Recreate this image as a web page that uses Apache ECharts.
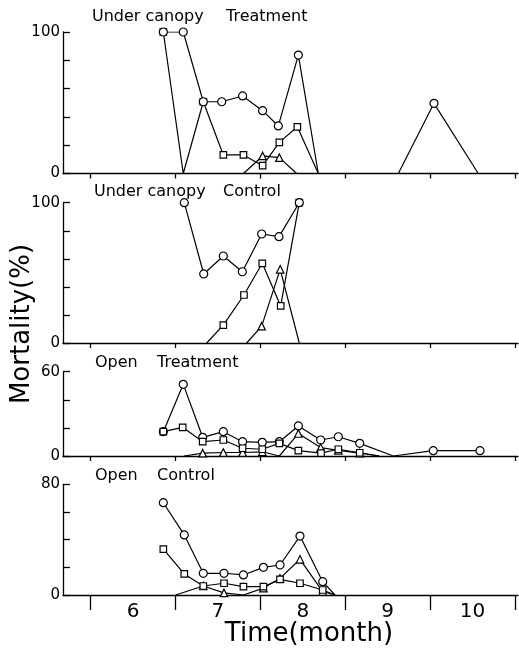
<!DOCTYPE html>
<html><head><meta charset="utf-8">
<script src="https://cdn.jsdelivr.net/npm/echarts@6/dist/echarts.min.js"></script>
<style>html,body{margin:0;padding:0;background:#fff}#c{width:519px;height:650px}</style>
</head><body><div id="c"></div>
<script>
// ---- data (x = month, 6.0 = start of June; y = mortality %) ----
const monthTicks = [6, 7, 8, 9, 10, 11];
const monthLabels = ['6', '7', '8', '9', '10'];
const panelTitles = [['Under canopy', 'Treatment'], ['Under canopy', 'Control'], ['Open', 'Treatment'], ['Open', 'Control']];
const yMaxes = [100, 100, 60, 80];

const ucTrtCircle = [[6.856,100],[7.091,100],[7.327,50.7],[7.544,50.7],[7.79,54.8],[8.026,44.4],[8.211,33.6],[8.447,83.7],[8.682,0],[9.625,0],[10.045,49.6],[10.567,0]];
const ucTrtSquare = [[6.856,100],[7.091,0],[7.327,50.7],[7.563,13.1],[7.8,13.1],[8.026,5.5],[8.223,22],[8.435,33],[8.682,0]];
const ucTrtTriangle = [[7.8,0],[8.026,12.4],[8.223,11.2],[8.427,0]];

const ucCtlCircle = [[7.103,100],[7.332,49.2],[7.563,62],[7.787,50.8],[8.015,77.7],[8.219,75.8],[8.458,100]];
const ucCtlSquare = [[7.367,0],[7.563,12.8],[7.806,34.2],[8.022,56.8],[8.239,26.4],[8.458,100]];
const ucCtlTriangle = [[7.838,0],[8.015,12],[8.233,52.5],[8.458,0]];

const opTrtCircle = [[6.856,17.3],[7.091,51],[7.32,13.3],[7.563,17.3],[7.79,10.2],[8.022,9.7],[8.223,10.2],[8.447,21.4],[8.71,11.4],[8.918,13.7],[9.17,9],[9.566,0],[10.037,3.8],[10.587,3.8]];
const opTrtSquare = [[6.856,17.3],[7.084,20.4],[7.32,10.2],[7.563,11.4],[7.79,5.5],[8.022,4.8],[8.223,9],[8.447,3.8],[8.714,2],[8.918,4.8],[9.17,2.3],[9.4,0]];
const opTrtTriangle = [[7.1,0],[7.32,2],[7.563,2.5],[7.79,2.5],[8.022,3],[8.223,0],[8.447,16],[8.71,6],[8.918,4],[9.17,2],[9.4,0]];

const opCtlCircle = [[6.856,66.7],[7.103,43.4],[7.327,15.7],[7.571,15.7],[7.8,14.5],[8.035,20],[8.231,21.7],[8.466,42.6],[8.734,9.6],[8.879,0]];
const opCtlSquare = [[6.856,33.2],[7.103,15.2],[7.327,6.5],[7.571,8.5],[7.8,6],[8.035,6],[8.231,11.3],[8.466,8.5],[8.734,3.6],[8.879,0]];
const opCtlTriangle = [[7.0,0],[7.327,6.5],[7.571,1.5],[7.8,0],[8.035,5],[8.231,12],[8.466,25.8],[8.734,2.5],[8.879,0]];

const panelSeries = [
  [ucTrtCircle, ucTrtTriangle, ucTrtSquare],
  [ucCtlCircle, ucCtlTriangle, ucCtlSquare],
  [opTrtCircle, opTrtTriangle, opTrtSquare],
  [opCtlCircle, opCtlTriangle, opCtlSquare]
];

// ---- layout ----
const FONT = 'DejaVu Sans';
const gridBoxes = [
  {top: 32, height: 141.5},
  {top: 202.7, height: 140.3},
  {top: 371.7, height: 84.3},
  {top: 484.3, height: 110.7}
];
const circlesOnTop = [true, true, false, false];
const X_MIN = 5.674, X_MAX = 11.035;
const symbols = [['circle', 8], ['triangle', 7.5], ['rect', 6.5]];

const grid = [], xAxis = [], yAxis = [], series = [];
gridBoxes.forEach((g, i) => {
  const last = i === gridBoxes.length - 1;
  grid.push({left: 63, width: 455, top: g.top, height: g.height});
  xAxis.push({
    gridIndex: i, type: 'value', min: X_MIN, max: X_MAX,
    axisLine: {show: true, onZero: false, lineStyle: {color: '#000', width: 1.3}},
    axisTick: {show: true, customValues: monthTicks, length: last ? 15 : 5, lineStyle: {color: '#000', width: 1.3}},
    axisLabel: last ? {
      show: true, customValues: monthLabels.map((_, k) => monthTicks[k] + 0.5),
      formatter: v => monthLabels[Math.round(v - 6.5)],
      fontFamily: FONT, fontSize: 20, color: '#000', margin: 7
    } : {show: false},
    splitLine: {show: false}
  });
  const ymax = yMaxes[i];
  yAxis.push({
    gridIndex: i, type: 'value', min: 0, max: ymax, interval: 20,
    axisLine: {show: true, lineStyle: {color: '#000', width: 1.3}},
    axisTick: {show: true, inside: true, length: 7, lineStyle: {color: '#000', width: 1.3}},
    axisLabel: {fontFamily: FONT, fontSize: 15, color: '#000', margin: 3,
      formatter: v => (v === 0 || v === ymax) ? String(v) : ''},
    splitLine: {show: false}
  });
  panelSeries[i].forEach((d, k) => {
    const [sym, size] = symbols[k];
    const z = (k === 0 && circlesOnTop[i]) ? 6 : 2 + k;
    series.push({
      type: 'line', xAxisIndex: i, yAxisIndex: i, data: d,
      symbol: sym, symbolSize: v => v[1] === 0 ? 0 : size, showSymbol: true,
      lineStyle: {color: '#000', width: 1.2},
      itemStyle: {color: '#fff', borderColor: '#000', borderWidth: 1.2},
      emphasis: {disabled: true}, z: z
    });
  });
});

const titlePos = [
  {y: 17, a: 92, b: 226},
  {y: 192, a: 94, b: 223},
  {y: 363, a: 95, b: 157},
  {y: 476, a: 95, b: 157}
];
const graphic = [];
titlePos.forEach((p, i) => {
  graphic.push({type: 'text', x: p.a, y: p.y, style: {text: panelTitles[i][0], font: '16px "' + FONT + '"', fill: '#000', textAlign: 'left', textVerticalAlign: 'middle'}});
  graphic.push({type: 'text', x: p.b, y: p.y, style: {text: panelTitles[i][1], font: '16px "' + FONT + '"', fill: '#000', textAlign: 'left', textVerticalAlign: 'middle'}});
});
graphic.push({type: 'text', x: 22, y: 324, rotation: Math.PI / 2, style: {text: 'Mortality(%)', font: '26px "' + FONT + '"', fill: '#000', textAlign: 'center', textVerticalAlign: 'middle'}});
graphic.push({type: 'text', x: 309, y: 634, style: {text: 'Time(month)', font: '26px "' + FONT + '"', fill: '#000', textAlign: 'center', textVerticalAlign: 'middle'}});

const chart = echarts.init(document.getElementById('c'));
chart.setOption({animation: false, backgroundColor: '#fff', grid, xAxis, yAxis, series, graphic});
</script></body></html>
